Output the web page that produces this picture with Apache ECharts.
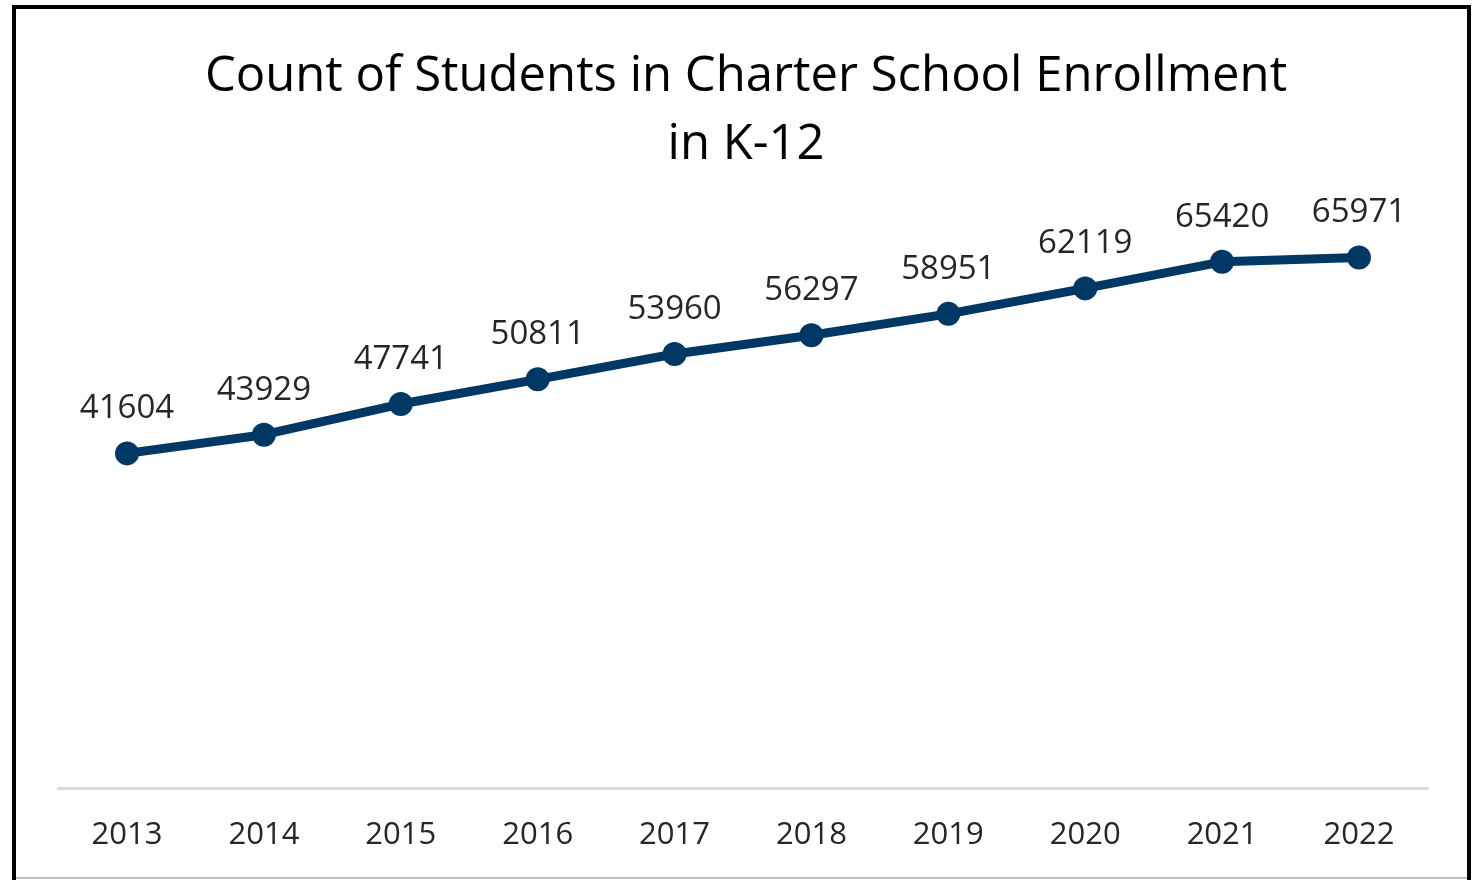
<!DOCTYPE html>
<html><head><meta charset="utf-8">
<script src="https://cdn.jsdelivr.net/npm/echarts@6/dist/echarts.min.js"></script>
<style>html,body{margin:0;padding:0;background:#fff}#c{width:1478px;height:880px}</style>
</head><body><div id="c"></div>
<script>
const years = ['2013','2014','2015','2016','2017','2018','2019','2020','2021','2022'];
const enrollment = [41604,43929,47741,50811,53960,56297,58951,62119,65420,65971];
const titleText = 'Count of Students in Charter School Enrollment\nin K-12';

const chart = echarts.init(document.getElementById('c'));
chart.setOption({
  animation:false,
  backgroundColor:'#fff',
  title:{text:titleText,left:741,top:38,textAlign:'center',
    textStyle:{fontFamily:'Open Sans',fontSize:49,fontWeight:'normal',color:'#000',lineHeight:68,align:'center'}},
  graphic:[
    {type:'rect',shape:{x:14,y:7,width:1455,height:900},style:{fill:'none',stroke:'#000',lineWidth:4},z:10},
    {type:'line',shape:{x1:16,y1:878,x2:1467,y2:878},style:{stroke:'#bfbfbf',lineWidth:2},z:10}
  ],
  grid:{left:58.6,right:1478-1427.4,top:225,bottom:880-788},
  xAxis:{type:'category',data:years,boundaryGap:true,
    axisLine:{lineStyle:{color:'#d9d9d9',width:3}},axisTick:{show:false},
    axisLabel:{fontFamily:'Open Sans',fontSize:31,color:'#262626',margin:32}},
  yAxis:{type:'value',min:0,max:70000,show:false,splitLine:{show:false}},
  series:[{type:'line',data:enrollment,
    lineStyle:{color:'#003865',width:9},itemStyle:{color:'#003865'},
    symbol:'circle',symbolSize:24,
    label:{show:true,position:'top',distance:16,fontFamily:'Open Sans',fontSize:33,color:'#262626'}}]
});
</script></body></html>
